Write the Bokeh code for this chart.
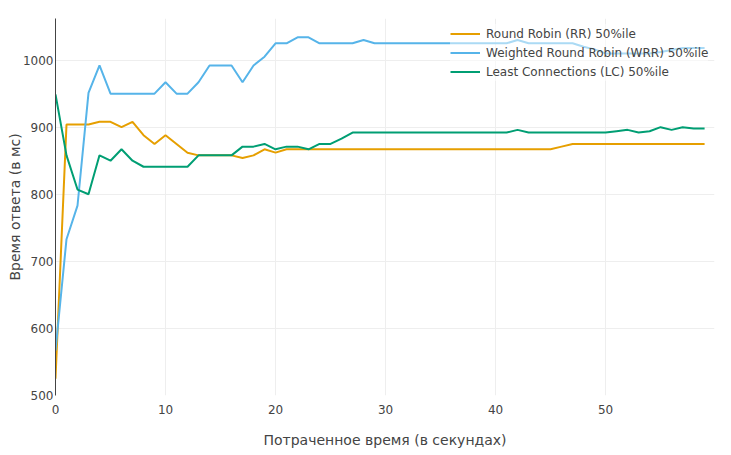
from bokeh.plotting import figure
from bokeh.models import Range1d, FixedTicker, Legend, LegendItem
from bokeh.embed import file_html
from bokeh.resources import INLINE

seconds = list(range(60))
rr = [525, 904, 904, 904, 908, 908, 900, 908, 888, 875,
      888, 875, 862, 858, 858, 858, 858, 854, 858, 867,
      862, 867, 867, 867, 867, 867, 867, 867, 867, 867,
      867, 867, 867, 867, 867, 867, 867, 867, 867, 867,
      867, 867, 867, 867, 867, 867, 871, 875, 875, 875,
      875, 875, 875, 875, 875, 875, 875, 875, 875, 875]
wrr = [567, 733, 783, 951, 992, 950, 950, 950, 950, 950,
       967, 950, 950, 967, 992, 992, 992, 967, 992, 1005,
       1025, 1025, 1034, 1034, 1025, 1025, 1025, 1025, 1030, 1025,
       1025, 1025, 1025, 1025, 1025, 1025, 1025, 1025, 1025, 1025,
       1025, 1025, 1030, 1025, 1025, 1025, 1025, 1025, 1020, 1016,
       1010, 1010, 1010, 1010, 1010, 1012, 1015, 1018, 1018, 1018]
lc = [949, 858, 807, 800, 858, 850, 867, 850, 841, 841,
      841, 841, 841, 858, 858, 858, 858, 871, 871, 875,
      867, 871, 871, 867, 875, 875, 883, 892, 892, 892,
      892, 892, 892, 892, 892, 892, 892, 892, 892, 892,
      892, 892, 896, 892, 892, 892, 892, 892, 892, 892,
      892, 894, 896, 892, 894, 900, 896, 900, 898, 898]
names = ["Round Robin (RR) 50%ile", "Weighted Round Robin (WRR) 50%ile",
         "Least Connections (LC) 50%ile"]
colors = ["#E69F00", "#56B4E9", "#009E73"]
x_ticks = [0, 10, 20, 30, 40, 50]
y_ticks = [500, 600, 700, 800, 900, 1000]

FONT = "DejaVu Sans"

p = figure(width=731, height=455, output_backend="svg", toolbar_location=None,
           x_range=Range1d(0, 59.9), y_range=Range1d(500, 1062),
           min_border_left=55, min_border_right=17, min_border_top=18,
           min_border_bottom=60)
p.outline_line_color = None
p.background_fill_color = "white"

renderers = []
for ys, c in zip([rr, wrr, lc], colors):
    r = p.line(seconds, ys, line_color=c, line_width=2)
    renderers.append(r)

p.xaxis.ticker = FixedTicker(ticks=x_ticks)
p.yaxis.ticker = FixedTicker(ticks=y_ticks)
p.xgrid.ticker = FixedTicker(ticks=x_ticks)
p.ygrid.ticker = FixedTicker(ticks=y_ticks)
p.xgrid.grid_line_color = "#eeeeee"
p.ygrid.grid_line_color = "#eeeeee"
p.xgrid.grid_line_width = 1
p.ygrid.grid_line_width = 1

for ax in (p.xaxis, p.yaxis):
    ax.major_tick_line_color = None
    ax.minor_tick_line_color = None
    ax.major_tick_out = 0
    ax.major_tick_in = 0
    ax.minor_tick_out = 0
    ax.minor_tick_in = 0
    ax.major_label_text_font = FONT
    ax.major_label_text_font_size = "12px"
    ax.major_label_text_color = "#444444"
    ax.axis_label_text_font = FONT
    ax.axis_label_text_font_size = "14px"
    ax.axis_label_text_font_style = "normal"
    ax.axis_label_text_color = "#444444"

p.xaxis.axis_line_color = None
p.yaxis.axis_line_color = "#444444"
p.yaxis.axis_line_width = 1
p.xaxis.axis_label = "Потраченное время (в секундах)"
p.yaxis.axis_label = "Время ответа (в мс)"
p.xaxis.major_label_standoff = 9
p.xaxis.axis_label_standoff = 15
p.yaxis.major_label_standoff = 2
p.yaxis.axis_label_standoff = -3

legend = Legend(items=[LegendItem(label=n, renderers=[r]) for n, r in zip(names, renderers)],
                location=(395, 314))
legend.label_text_font = FONT
legend.label_text_font_size = "12px"
legend.label_text_color = "#444444"
legend.glyph_width = 30
legend.glyph_height = 19
legend.label_height = 19
legend.label_standoff = 6
legend.spacing = 0
legend.padding = 5
legend.margin = 0
legend.border_line_color = None
legend.background_fill_color = "white"
legend.background_fill_alpha = 0.5
p.add_layout(legend)

open("out.html", "w").write(file_html(p, INLINE))
